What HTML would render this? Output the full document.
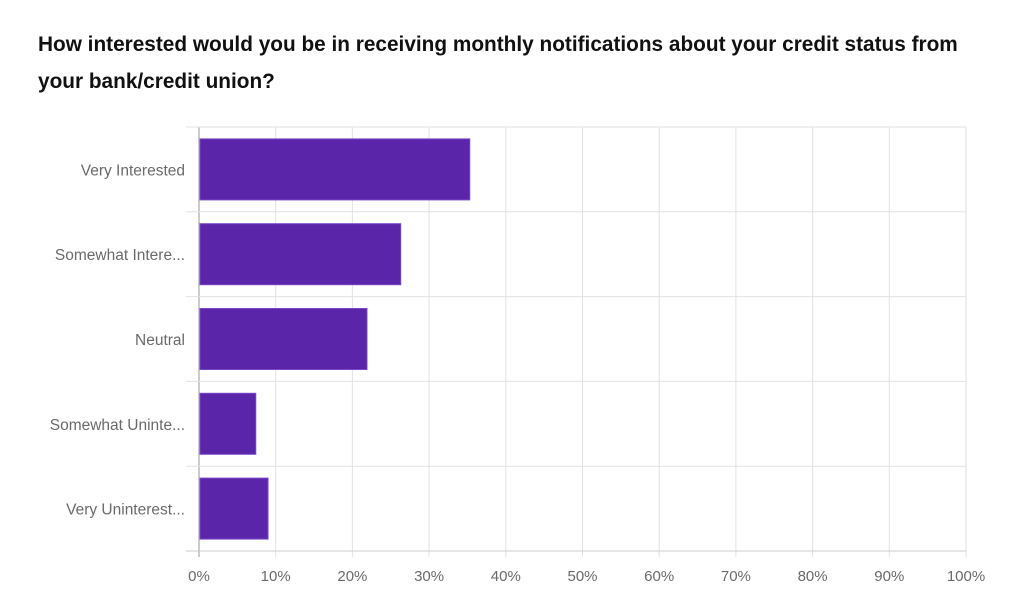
<!DOCTYPE html>
<html><head><meta charset="utf-8"><style>
body{margin:0;background:#fff;font-family:"Liberation Sans",sans-serif}
#title{position:absolute;left:38px;top:26px;width:945px;font-size:20.8px;font-weight:bold;line-height:37px;color:#111}
svg{position:absolute;left:0;top:0}
</style></head><body>
<div id="title">How interested would you be in receiving monthly notifications about your credit status from your bank/credit union?</div>
<svg id="chart" width="1024" height="606"></svg>
<script>
const categories=["Very Interested","Somewhat Intere...","Neutral","Somewhat Uninte...","Very Uninterest..."];
const values=[35.3,26.3,21.9,7.4,9.0];
const ticks=[0,10,20,30,40,50,60,70,80,90,100];
const tickLabels=["0%","10%","20%","30%","40%","50%","60%","70%","80%","90%","100%"];
const svg=document.getElementById('chart');
const NS='http://www.w3.org/2000/svg';
const x0=199,x1=966,y0=127,y1=551;
const xs=v=>x0+(x1-x0)*v/100;
const band=(y1-y0)/categories.length;
const yb=i=>y0+band*i;
function mk(t,a){const e=document.createElementNS(NS,t);for(const k in a)e.setAttribute(k,a[k]);svg.appendChild(e);return e;}
ticks.forEach((t,i)=>{
 const g=mk('line',{x1:xs(t),x2:xs(t),y1:y0,y2:y1+6,stroke:t===0?'#bbb':'#e2e2e2','stroke-width':t===0?1.5:1});
 
 
 const l=mk('text',{x:xs(t),y:581,'text-anchor':'middle','font-size':15,fill:'#6a6a6a'});
 l.textContent=tickLabels[i];
 
 
});
for(let i=0;i<=categories.length;i++){
 const g=mk('line',{x1:186,x2:x1,y1:yb(i),y2:yb(i),stroke:i===categories.length?'#ccc':'#e2e2e2','stroke-width':1});
 
 
}
categories.forEach((c,i)=>{
 const bh=61, by=yb(i)+(band-bh)/2;
 const r=mk('rect',{x:x0+1,y:by,width:xs(values[i])-x0-1,height:bh,fill:'#5b25a9',stroke:'#7a45c8','stroke-width':1});
 
 
 const l=mk('text',{x:185,y:yb(i)+band/2+6,'text-anchor':'end','font-size':15.5,fill:'#6a6a6a'});
 l.textContent=c;
 
 
});
</script>
</body></html>
